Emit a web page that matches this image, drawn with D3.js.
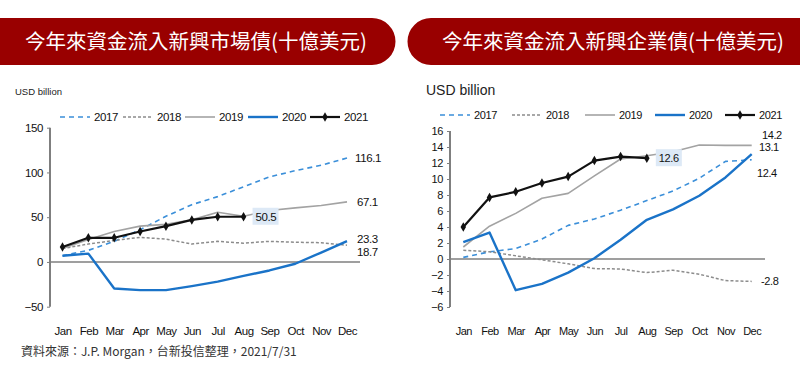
<!DOCTYPE html>
<html>
<head>
<meta charset="utf-8">
<script src="https://cdn.jsdelivr.net/npm/d3@7"></script>
<style>
  body { margin: 0; background: #fff; }
  svg { display: block; }
</style>
</head>
<body>
<svg id="chart" width="800" height="370"></svg>
<script>
// ---- data ----
var months = ["Jan","Feb","Mar","Apr","May","Jun","Jul","Aug","Sep","Oct","Nov","Dec"];
var years = ["2017","2018","2019","2020","2021"];

// left: 新興市場債 (USD billion)
var mkt2017 = [7, 13, 23, 36, 51, 64, 73, 84, 95, 102, 108, 116.1];
var mkt2018 = [15, 20, 24, 27.5, 25.5, 20, 23, 21, 23, 22, 21.5, 18.7];
var mkt2019 = [15, 25, 34, 40, 42, 47, 55.5, 51, 57.4, 60.4, 63, 67.1];
var mkt2020 = [7, 9.3, -29.6, -31.5, -31.5, -27, -22, -15.5, -9.5, -2, 10.5, 23.3];
var mkt2021 = [16.7, 27, 27, 34, 40, 47, 50.5, 50.5];
var mktTicks = [-50, 0, 50, 100, 150];

// right: 新興企業債 (USD billion)
var corp2017 = [0.2, 0.9, 1.3, 2.5, 4.2, 5.0, 6.1, 7.3, 8.5, 10.1, 12.2, 12.4];
var corp2018 = [1.1, 0.9, 0.4, -0.1, -0.6, -1.2, -1.25, -1.7, -1.4, -1.9, -2.7, -2.8];
var corp2019 = [1.5, 4.1, 5.7, 7.6, 8.2, 10.4, 12.5, 12.9, 13.4, 14.25, 14.2, 14.2];
var corp2020 = [2.1, 3.3, -3.9, -3.1, -1.7, 0.1, 2.4, 4.9, 6.2, 7.9, 10.2, 13.1];
var corp2021 = [4.0, 7.7, 8.4, 9.5, 10.3, 12.3, 12.8, 12.6];
var corpTicks = [-6, -4, -2, 0, 2, 4, 6, 8, 10, 12, 14, 16];

var svg = d3.select("#chart");
var font = "'Liberation Sans Narrow', 'Liberation Sans', Arial, sans-serif";
var cjk = "'Noto Sans CJK TC', 'Noto Sans CJK SC', sans-serif";

// line styles per year
var styles = {
  "2017": { color: "#3b8fd9", width: 1.6, dash: "5,4" },
  "2018": { color: "#8c8c8c", width: 1.5, dash: "3,2" },
  "2019": { color: "#a3a3a3", width: 1.6, dash: null },
  "2020": { color: "#1a73c8", width: 2.4, dash: null },
  "2021": { color: "#111111", width: 2.2, dash: null }
};

// ---- banners ----
var red = "#990000";
svg.append("path")
  .attr("d", "M0,18 H372 A23.5,23.5 0 0 1 372,65 H0 Z")
  .attr("fill", red);
svg.append("path")
  .attr("d", "M431,18 H800 V65 H431 A23.5,23.5 0 0 1 431,18 Z")
  .attr("fill", red);
svg.append("text").attr("x", 196).attr("y", 49)
  .attr("text-anchor", "middle").attr("fill", "#fff")
  .attr("font-family", cjk).attr("font-size", 20.5)
  .text("今年來資金流入新興市場債(十億美元)");
svg.append("text").attr("x", 613).attr("y", 49)
  .attr("text-anchor", "middle").attr("fill", "#fff")
  .attr("font-family", cjk).attr("font-size", 20.5)
  .text("今年來資金流入新興企業債(十億美元)");

// ---- one panel ----
function panel(opt) {
  var g = svg.append("g");
  var x = d3.scalePoint().domain(months).range(opt.xr);
  var y = d3.scaleLinear().domain(opt.yd).range(opt.yr);

  g.append("text").attr("x", opt.unitX).attr("y", opt.unitY)
    .attr("font-family", font).attr("font-size", opt.unitSize).attr("fill", "#222")
    .text("USD billion");

  // y axis
  var yAxis = d3.axisLeft(y).tickValues(opt.ticks).tickSize(3).tickPadding(4);
  var ya = g.append("g").attr("transform", "translate(" + opt.axisX + ",0)").call(yAxis);
  ya.select(".domain").attr("stroke", "#7f7f7f").attr("stroke-width", 2)
    .attr("d", "M0," + y(opt.yd[0]) + "V" + y(opt.yd[1]));
  ya.selectAll(".tick line").attr("stroke", "#7f7f7f");
  ya.selectAll("text").attr("font-family", font).attr("font-size", opt.tickSize)
    .attr("letter-spacing", -0.4).attr("fill", "#111");

  // zero line
  g.append("line").attr("x1", opt.axisX).attr("x2", opt.zeroEnd)
    .attr("y1", y(0)).attr("y2", y(0))
    .attr("stroke", "#7f7f7f").attr("stroke-width", 1.6);

  // x labels
  var xa = g.append("g").attr("transform", "translate(0," + opt.monthY + ")")
    .call(d3.axisBottom(x).tickSize(0).tickPadding(0));
  xa.select(".domain").remove();
  xa.selectAll("text").attr("font-family", font).attr("font-size", opt.tickSize)
    .attr("letter-spacing", -0.5).attr("fill", "#111");

  var line = d3.line().x(function(d, i) { return x(months[i]); }).y(function(d) { return y(d); });

  years.forEach(function(yr, k) {
    var st = styles[yr];
    g.append("path").datum(opt.series[k])
      .attr("d", line).attr("fill", "none")
      .attr("stroke", st.color).attr("stroke-width", st.width)
      .attr("stroke-dasharray", st.dash)
      .attr("stroke-linejoin", "round");
  });

  // diamonds on 2021
  var last = opt.series[4];
  g.selectAll(".dia").data(last).enter().append("path")
    .attr("d", d3.symbol().type(d3.symbolDiamond).size(26))
    .attr("transform", function(d, i) { return "translate(" + x(months[i]) + "," + y(d) + ")"; })
    .attr("fill", "#111");

  // legend
  years.forEach(function(yr, k) {
    var st = styles[yr];
    var lx = opt.legX[k];
    g.append("line").attr("x1", lx).attr("x2", lx + 30)
      .attr("y1", opt.legY).attr("y2", opt.legY)
      .attr("stroke", st.color).attr("stroke-width", st.width)
      .attr("stroke-dasharray", st.dash);
    if (yr === "2021") {
      g.append("path").attr("d", d3.symbol().type(d3.symbolDiamond).size(26))
        .attr("transform", "translate(" + (lx + 15) + "," + opt.legY + ")").attr("fill", "#111");
    }
    g.append("text").attr("x", lx + 34).attr("y", opt.legY + 4)
      .attr("font-family", font).attr("font-size", opt.tickSize)
      .attr("letter-spacing", -0.4).attr("fill", "#111")
      .text(yr);
  });

  // end labels
  opt.endLabels.forEach(function(l) {
    g.append("text").attr("x", l.x).attr("y", y(l.v) + l.dy)
      .attr("font-family", font).attr("font-size", opt.tickSize)
      .attr("letter-spacing", -0.4).attr("fill", "#111")
      .text(l.t);
  });

  // boxed 2021 label
  var bx = x("Aug") + 9, by = y(last[last.length - 1]);
  g.append("rect").attr("x", bx).attr("y", by - 9).attr("width", 26).attr("height", 17)
    .attr("fill", "#dde9f6");
  g.append("text").attr("x", bx + 3).attr("y", by + 4)
    .attr("font-family", font).attr("font-size", opt.tickSize)
    .attr("letter-spacing", -0.4).attr("fill", "#111")
    .text(d3.format(".1f")(last[last.length - 1]));
}

panel({
  xr: [62.5, 347], yd: [-50, 150], yr: [306.7, 127.7], ticks: mktTicks,
  axisX: 50, zeroEnd: 360, monthY: 327, tickSize: 11.5,
  unitX: 15, unitY: 95, unitSize: 9.5,
  legY: 117, legX: [60, 123, 185, 248, 310],
  series: [mkt2017, mkt2018, mkt2019, mkt2020, mkt2021],
  endLabels: [
    { t: "116.1", v: 116.1, x: 355, dy: 4 },
    { t: "67.1", v: 67.1, x: 357, dy: 4 },
    { t: "23.3", v: 23.3, x: 357, dy: 2 },
    { t: "18.7", v: 18.7, x: 357, dy: 11 }
  ]
});

panel({
  xr: [463.3, 751.7], yd: [-6, 16], yr: [307, 131], ticks: corpTicks,
  axisX: 450, zeroEnd: 765, monthY: 327, tickSize: 11,
  unitX: 426, unitY: 95, unitSize: 14,
  legY: 115, legX: [440, 512, 585, 655, 725],
  series: [corp2017, corp2018, corp2019, corp2020, corp2021],
  endLabels: [
    { t: "14.2", v: 14.2, x: 762, dy: -6 },
    { t: "13.1", v: 13.1, x: 759, dy: -3 },
    { t: "12.4", v: 12.4, x: 757, dy: 17 },
    { t: "-2.8", v: -2.8, x: 761, dy: 4 }
  ]
});

// source
svg.append("text").attr("x", 21).attr("y", 356)
  .attr("font-family", cjk).attr("font-size", 12).attr("fill", "#333")
  .text("資料來源：J.P. Morgan，台新投信整理，2021/7/31");
</script>
</body>
</html>
